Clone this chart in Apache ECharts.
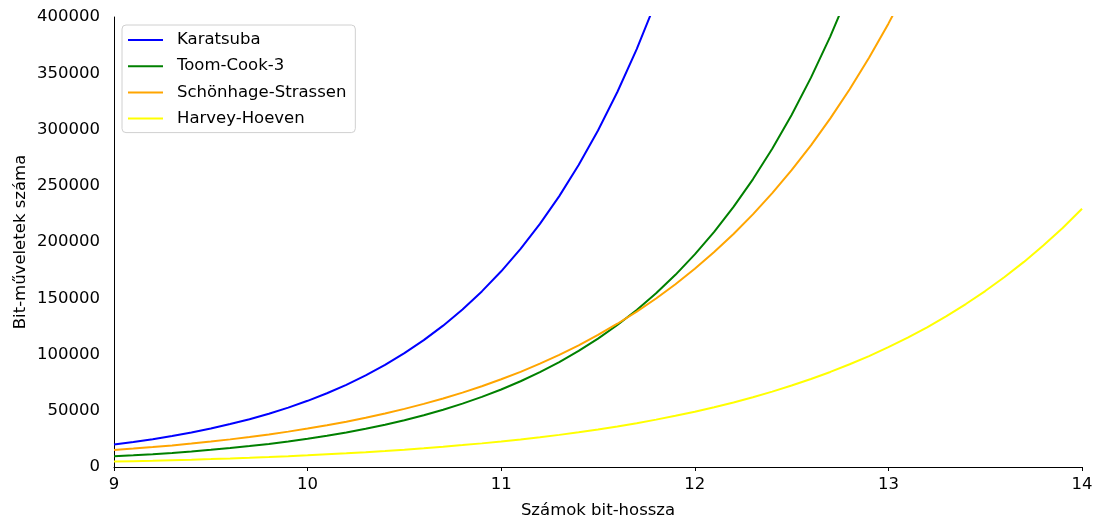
<!DOCTYPE html>
<html>
<head>
<meta charset="utf-8">
<script src="https://cdn.jsdelivr.net/npm/echarts@6/dist/echarts.min.js"></script>
<style>
html,body{margin:0;padding:0;background:#fff;}
#chart{width:1100px;height:524px;}
</style>
</head>
<body>
<div id="chart"></div>
<script>
// x values (bit-length), step 0.1
const xs = [9.0, 9.1, 9.2, 9.3, 9.4, 9.5, 9.6, 9.7, 9.8, 9.9,
  10.0, 10.1, 10.2, 10.3, 10.4, 10.5, 10.6, 10.7, 10.8, 10.9,
  11.0, 11.1, 11.2, 11.3, 11.4, 11.5, 11.6, 11.7, 11.8, 11.9,
  12.0, 12.1, 12.2, 12.3, 12.4, 12.5, 12.6, 12.7, 12.8, 12.9,
  13.0, 13.1, 13.2, 13.3, 13.4, 13.5, 13.6, 13.7, 13.8, 13.9, 14.0];
const seriesNames = ['Karatsuba', 'Toom-Cook-3', 'Schönhage-Strassen', 'Harvey-Hoeven'];
const karatsuba = [19900, 22180, 24720, 27550, 30700, 34220, 38140, 42500, 47370, 52790,
  58830, 65570, 73070, 81440, 90770, 101160, 112740, 125650, 140040, 156070,
  173940, 193850, 216050, 240790, 268360, 299090, 333330, 371500, 414040, 461450];
const toomCook3 = [9500, 10400, 11400, 12550, 13850, 15280, 16790, 18570, 20540, 22720,
  25130, 27790, 30740, 34010, 37620, 41610, 46020, 50910, 56310, 62290,
  68900, 76210, 84300, 93250, 103150, 114100, 126210, 139610, 154430, 170820,
  188950, 209000, 231180, 255720, 282860, 312880, 346090, 382820, 423450];
const schonhage = [15100, 16350, 17700, 19200, 20800, 22600, 24550, 26650, 28950, 31450,
  34200, 37100, 40300, 43800, 47550, 51650, 56100, 60900, 66100, 71800,
  77950, 84600, 91850, 99700, 108200, 117400, 127350, 138100, 149800, 162500,
  176200, 191050, 207150, 224550, 243450, 263850, 285950, 309850, 335750, 363750,
  394100, 426900];
const harveyHoeven = [4850, 5220, 5620, 6060, 6540, 7060, 7620, 8230, 8890, 9600,
  10400, 11300, 12200, 13200, 14250, 15400, 16650, 18000, 19450, 21000,
  22700, 24500, 26450, 28550, 30850, 33350, 36050, 38950, 42100, 45500,
  49150, 53100, 57400, 62000, 67000, 72400, 78200, 84500, 91300, 98600,
  106500, 115000, 124200, 134100, 144850, 156400, 168850, 182300, 196800, 212450, 229600];
const xTicks = [9, 10, 11, 12, 13, 14];
const yTicks = [0, 50000, 100000, 150000, 200000, 250000, 300000, 350000, 400000];

const colors = ['#0000ff', '#008000', '#ffa500', '#ffff00'];
const values = [karatsuba, toomCook3, schonhage, harveyHoeven];
const FONT = 'DejaVu Sans';
const FS = 16.5;

const chart = echarts.init(document.getElementById('chart'), null, {renderer: 'canvas'});
chart.setOption({
  animation: false,
  backgroundColor: '#fff',
  textStyle: {fontFamily: FONT},
  grid: {left: 114, right: 18, top: 17, bottom: 56, containLabel: false},
  legend: {
    orient: 'vertical',
    left: 122, top: 25,
    padding: [6, 9, 5, 6],
    itemGap: 8.2,
    itemWidth: 35, itemHeight: 2,
    icon: 'rect',
    backgroundColor: '#fff',
    borderColor: '#d0d0d0', borderWidth: 1, borderRadius: 4,
    textStyle: {fontFamily: FONT, fontSize: FS, color: '#000', lineHeight: 18, padding: [0, 0, 0, 9]},
    data: seriesNames
  },
  xAxis: {
    type: 'value',
    min: xTicks[0], max: xTicks[xTicks.length - 1], interval: 1,
    name: 'Számok bit-hossza', nameLocation: 'middle', nameGap: 35,
    nameTextStyle: {fontFamily: FONT, fontSize: FS, color: '#000'},
    axisLine: {show: true, onZero: false, lineStyle: {color: '#000', width: 1}},
    axisTick: {show: true, length: 4, lineStyle: {color: '#000'}},
    axisLabel: {fontFamily: FONT, fontSize: FS, color: '#000', margin: 9},
    splitLine: {show: false}
  },
  yAxis: {
    type: 'value',
    min: yTicks[0], max: yTicks[yTicks.length - 1], interval: 50000,
    name: 'Bit-műveletek száma', nameLocation: 'middle', nameGap: 85, nameRotate: 90,
    nameMoveOverlap: false,
    nameTextStyle: {fontFamily: FONT, fontSize: FS, color: '#000'},
    axisLine: {show: true, onZero: false, lineStyle: {color: '#000', width: 1}},
    axisTick: {show: false},
    axisLabel: {fontFamily: FONT, fontSize: FS, color: '#000', margin: 14, formatter: v => String(v)},
    splitLine: {show: false}
  },
  series: seriesNames.map((name, k) => ({
    name: name,
    type: 'line',
    data: values[k].map((v, i) => [xs[i], v]),
    showSymbol: false,
    symbol: 'none',
    smooth: false,
    clip: true,
    lineStyle: {color: colors[k], width: 2},
    itemStyle: {color: colors[k]},
    z: 2 + k
  }))
});
</script>
</body>
</html>
